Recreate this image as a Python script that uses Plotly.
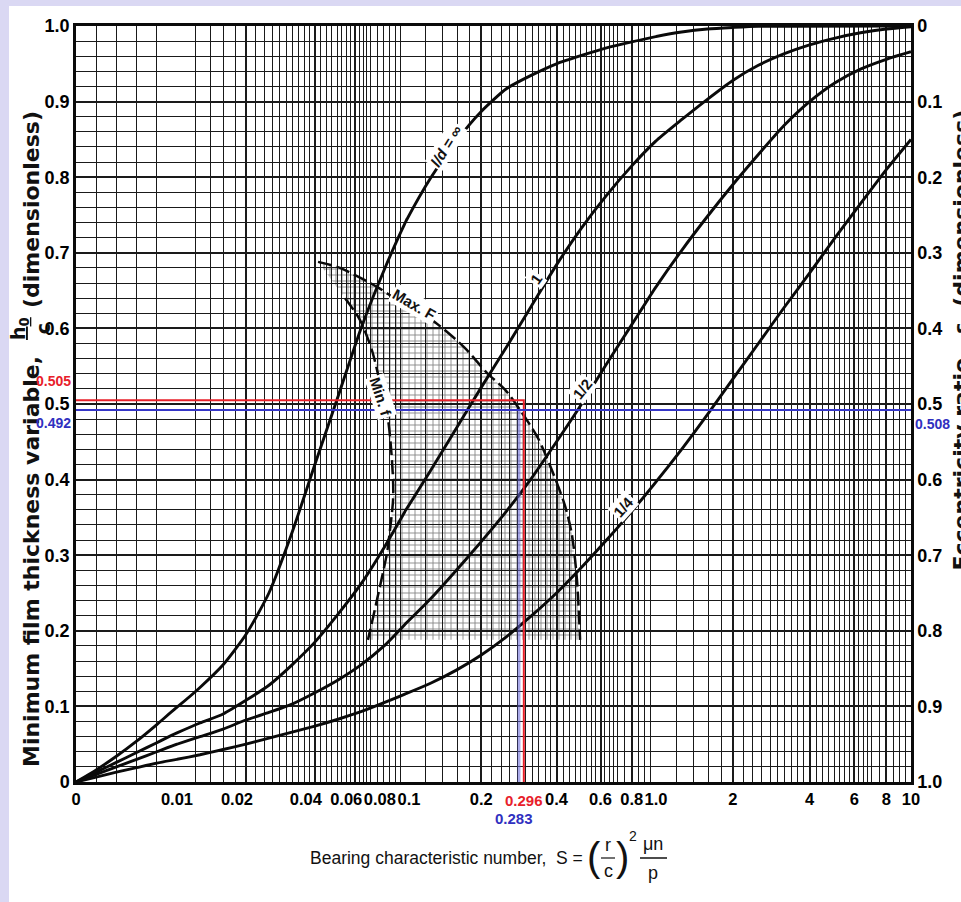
import math
import plotly.graph_objects as go

# ---------------- data ----------------
# l/d = infinity
S_inf = [0, 0.002, 0.004, 0.006, 0.008, 0.01, 0.0126, 0.0159, 0.02, 0.0252, 0.0318, 0.04, 0.0505, 0.0636, 0.0802, 0.1, 0.126, 0.159, 0.2, 0.252, 0.318, 0.4, 0.504, 0.634, 0.8, 1.0, 1.26, 1.59, 2.0, 2.52, 10]
h_inf = [0, 0.016, 0.034, 0.054, 0.076, 0.099, 0.125, 0.155, 0.195, 0.250, 0.330, 0.420, 0.510, 0.600, 0.677, 0.742, 0.800, 0.848, 0.887, 0.917, 0.935, 0.950, 0.961, 0.971, 0.979, 0.986, 0.992, 0.996, 0.998, 0.9995, 1.0]
# l/d = 1
S_1 = [0, 0.002, 0.004, 0.006, 0.008, 0.01, 0.0126, 0.0159, 0.02, 0.0252, 0.0318, 0.04, 0.0505, 0.0636, 0.0802, 0.1, 0.126, 0.159, 0.2, 0.252, 0.318, 0.4, 0.504, 0.634, 0.8, 1.0, 1.26, 1.59, 2.0, 2.52, 3.17, 4.0, 5.04, 6.34, 8.0, 10]
h_1 = [0, 0.013, 0.026, 0.039, 0.052, 0.065, 0.078, 0.090, 0.108, 0.128, 0.155, 0.185, 0.222, 0.262, 0.310, 0.360, 0.413, 0.468, 0.522, 0.575, 0.630, 0.684, 0.733, 0.776, 0.815, 0.848, 0.876, 0.903, 0.928, 0.948, 0.963, 0.975, 0.984, 0.991, 0.996, 0.999]
# l/d = 1/2
S_2 = [0, 0.002, 0.004, 0.006, 0.008, 0.01, 0.0126, 0.0159, 0.02, 0.0252, 0.0318, 0.04, 0.0505, 0.0636, 0.0802, 0.1, 0.126, 0.159, 0.2, 0.252, 0.318, 0.4, 0.504, 0.634, 0.8, 1.0, 1.26, 1.59, 2.0, 2.52, 3.17, 4.0, 5.04, 6.34, 8.0, 10]
h_2 = [0, 0.010, 0.020, 0.030, 0.040, 0.050, 0.060, 0.070, 0.082, 0.092, 0.103, 0.118, 0.135, 0.155, 0.180, 0.210, 0.243, 0.280, 0.318, 0.358, 0.402, 0.450, 0.500, 0.553, 0.605, 0.655, 0.703, 0.748, 0.790, 0.830, 0.868, 0.900, 0.925, 0.943, 0.956, 0.966]
# l/d = 1/4
S_4 = [0, 0.002, 0.004, 0.006, 0.008, 0.01, 0.0126, 0.0159, 0.02, 0.0252, 0.0318, 0.04, 0.0505, 0.0636, 0.0802, 0.1, 0.126, 0.159, 0.2, 0.252, 0.318, 0.4, 0.504, 0.634, 0.8, 1.0, 1.26, 1.59, 2.0, 2.52, 3.17, 4.0, 5.04, 6.34, 8.0, 10]
h_4 = [0, 0.0065, 0.013, 0.019, 0.025, 0.030, 0.036, 0.043, 0.050, 0.058, 0.066, 0.074, 0.083, 0.093, 0.105, 0.117, 0.131, 0.148, 0.168, 0.192, 0.220, 0.250, 0.284, 0.320, 0.358, 0.397, 0.440, 0.486, 0.533, 0.580, 0.627, 0.673, 0.720, 0.765, 0.810, 0.850]
# Max. F and Min. f boundaries (dashed)
S_maxF = [0.0413, 0.0515, 0.0747, 0.0912, 0.1138, 0.1368, 0.1722, 0.211, 0.2489, 0.286, 0.337, 0.387, 0.432, 0.461, 0.483, 0.497]
h_maxF = [0.688, 0.680, 0.655, 0.638, 0.622, 0.603, 0.574, 0.541, 0.519, 0.492, 0.455, 0.409, 0.366, 0.327, 0.267, 0.188]
S_minf = [0.0542, 0.063, 0.071, 0.077, 0.0835, 0.0858, 0.0878, 0.0878, 0.0851, 0.0826, 0.0747, 0.0682]
h_minf = [0.640, 0.611, 0.571, 0.528, 0.479, 0.446, 0.399, 0.373, 0.333, 0.303, 0.241, 0.188]

# worked example
red_S, red_h = 0.296, 0.505
blue_S, blue_h = 0.283, 0.492

# axis tick labels
x_tick_vals = [0, 0.01, 0.02, 0.04, 0.06, 0.08, 0.1, 0.2, 0.4, 0.6, 0.8, 1.0, 2, 4, 6, 8, 10]
x_tick_text = ["0", "0.01", "0.02", "0.04", "0.06", "0.08", "0.1", "0.2", "0.4", "0.6", "0.8", "1.0", "2", "4", "6", "8", "10"]
y_tick_vals = [0, 0.1, 0.2, 0.3, 0.4, 0.5, 0.6, 0.7, 0.8, 0.9, 1.0]
y_left_text = ["0", "0.1", "0.2", "0.3", "0.4", "0.5", "0.6", "0.7", "0.8", "0.9", "1.0"]
ecc_tick_vals = [0, 0.1, 0.2, 0.3, 0.4, 0.5, 0.6, 0.7, 0.8, 0.9, 1.0]
ecc_tick_text = ["0", "0.1", "0.2", "0.3", "0.4", "0.5", "0.6", "0.7", "0.8", "0.9", "1.0"]

# ---------------- layout geometry ----------------
W, H = 961, 902
L, R, T, B = 76, 911, 26, 782
PW, PH = R - L, B - T
seg_px = [76, 177, 406, 656, 911]
segs = [(0, 0.01, "linear"), (0.01, 0.1, "log"), (0.1, 1, "log"), (1, 10, "log")]
domains = [((seg_px[i] - L) / PW, (seg_px[i + 1] - L) / PW) for i in range(4)]


def grid_vals(lo, hi):
    if lo == 0:
        return [0.002, 0.004, 0.006, 0.008]
    m = [1.2, 1.4, 1.6, 1.8, 2.0, 2.2, 2.4, 2.6, 2.8, 3.0, 3.2, 3.4, 3.6, 3.8, 4.0,
         4.25, 4.5, 4.75, 5.0, 5.25, 5.5, 5.75, 6.0, 6.25, 6.5, 6.75, 7.0, 7.5, 8.0, 8.5, 9.0, 9.5]
    return [round(v * lo, 6) for v in m]


FONT_T = "Liberation Sans, Arial, sans-serif"
BOLD = "DejaVu Sans, Liberation Sans, sans-serif"
GRID = "#1a1a1a"
INK = "#0a0a0a"

fig = go.Figure()
xnames = ["x", "x2", "x3", "x4"]
curves = [(S_inf, h_inf), (S_1, h_1), (S_2, h_2), (S_4, h_4)]
hatch_S = S_minf + S_maxF[::-1]
hatch_h = h_minf + h_maxF[::-1]

for i, xn in enumerate(xnames):
    lo, hi, typ = segs[i]
    fig.add_trace(go.Scatter(x=hatch_S, y=hatch_h, xaxis=xn, yaxis="y", mode="lines",
                             fill="toself", fillcolor="rgba(0,0,0,0)", line=dict(width=0),
                             fillpattern=dict(shape="+", size=6, solidity=0.28,
                                              fgcolor="#111", bgcolor="rgba(0,0,0,0)"),
                             showlegend=False, hoverinfo="skip"))
    for S, h in curves:
        fig.add_trace(go.Scatter(x=S, y=h, xaxis=xn, yaxis="y", mode="lines",
                                 line=dict(color=INK, width=2.9, shape="spline", smoothing=0.6),
                                 showlegend=False, hoverinfo="skip"))
    for S, h in [(S_maxF, h_maxF), (S_minf, h_minf)]:
        fig.add_trace(go.Scatter(x=S, y=h, xaxis=xn, yaxis="y", mode="lines",
                                 line=dict(color=INK, width=2.5, dash="14px,5px",
                                           shape="spline", smoothing=0.8),
                                 showlegend=False, hoverinfo="skip"))
    left_edge = 0 if typ == "linear" else 1e-4
    fig.add_trace(go.Scatter(x=[blue_S, blue_S], y=[blue_h, 0], xaxis=xn, yaxis="y",
                             mode="lines", line=dict(color="rgba(100,100,215,0.55)", width=3),
                             showlegend=False, hoverinfo="skip"))
    fig.add_trace(go.Scatter(x=[left_edge, red_S, red_S], y=[red_h, red_h, 0], xaxis=xn, yaxis="y",
                             mode="lines", line=dict(color="#e8202a", width=2),
                             showlegend=False, hoverinfo="skip"))
    fig.add_trace(go.Scatter(x=[left_edge, 10], y=[blue_h, blue_h], xaxis=xn, yaxis="y",
                             mode="lines", line=dict(color="#3636c8", width=2),
                             showlegend=False, hoverinfo="skip"))

# invisible carriers for the eccentricity axis and the two crowded tick labels
fig.add_trace(go.Scatter(x=[1, 10], y=[0.5, 0.5], xaxis="x4", yaxis="y2", mode="lines",
                         line=dict(width=0), showlegend=False, hoverinfo="skip"))
fig.add_trace(go.Scatter(x=[0.05, 0.09], y=[0.5, 0.5], xaxis="x5", yaxis="y", mode="lines",
                         line=dict(width=0), showlegend=False, hoverinfo="skip"))
fig.add_trace(go.Scatter(x=[0.2, 0.5], y=[0.5, 0.5], xaxis="x6", yaxis="y", mode="lines",
                         line=dict(width=0), showlegend=False, hoverinfo="skip"))

TICKF = dict(family=FONT_T, size=18, color="#000", weight="bold")
TICKFX = dict(family=FONT_T, size=16.5, color="#000", weight="bold")
crowded = {0.08: ("xaxis5", "x2", -4), 0.1: ("xaxis6", "x3", 3)}

for i, xn in enumerate(xnames):
    lo, hi, typ = segs[i]
    if i == 0:
        tv = [v for v in x_tick_vals if lo <= v <= hi]
    elif i == 1:
        tv = [v for v in x_tick_vals if lo < v < hi]
    elif i == 2:
        tv = [v for v in x_tick_vals if lo <= v < hi]
    else:
        tv = [v for v in x_tick_vals if lo <= v <= hi]
    tv = [v for v in tv if v not in crowded]
    tt = [x_tick_text[x_tick_vals.index(v)] for v in tv]
    rng = [lo, hi] if typ == "linear" else [math.log10(lo), math.log10(hi)]
    ax = dict(type=typ, domain=list(domains[i]), range=rng, anchor="y",
              tickmode="array", tickvals=tv, ticktext=tt, tickangle=0,
              showgrid=True, gridcolor=GRID, gridwidth=1.6,
              minor=dict(tickmode="array", tickvals=grid_vals(lo, hi), showgrid=True,
                         gridcolor=GRID, gridwidth=1.2, ticks=""),
              showline=True, linecolor=INK, linewidth=2.5, mirror=True,
              ticks="", zeroline=False, tickfont=TICKFX)
    if i == 1:
        ax["ticklabelshift"] = -9
    key = "xaxis" if i == 0 else "xaxis%d" % (i + 1)
    fig.layout[key] = ax

# overlay axes that only carry the crowded labels, nudged apart as in the chart
for v, (key, base, shift) in crowded.items():
    bi = xnames.index(base)
    lo, hi, typ = segs[bi]
    fig.layout[key] = dict(type="log", overlaying=base, anchor="y", side="bottom",
                           range=[math.log10(lo), math.log10(hi)],
                           tickmode="array", tickvals=[v], ticktext=[x_tick_text[x_tick_vals.index(v)]],
                           ticklabelshift=shift, tickangle=0, showgrid=False,
                           showline=True, linecolor=INK, linewidth=2.5,
                           ticks="", zeroline=False, tickfont=TICKFX)

fig.update_layout(
    width=W, height=H,
    margin=dict(l=L, r=W - R, t=T, b=H - B, pad=0),
    paper_bgcolor="#dad8f3", plot_bgcolor="white",
    yaxis=dict(range=[0, 1], tickmode="array", tickvals=y_tick_vals, ticktext=y_left_text,
               showgrid=True, gridcolor=GRID, gridwidth=2,
               minor=dict(dtick=0.02, showgrid=True, gridcolor=GRID, gridwidth=1.2, ticks=""),
               showline=True, linecolor=INK, linewidth=2.5, ticks="", zeroline=False,
               tickfont=TICKF, anchor="x"),
    yaxis2=dict(range=[1, 0], overlaying="y", side="right", anchor="x4",
                tickmode="array", tickvals=ecc_tick_vals, ticktext=ecc_tick_text,
                showgrid=False, showline=True, linecolor=INK, linewidth=2.5,
                ticks="", zeroline=False, tickfont=TICKF),
    showlegend=False,
)


def px_x(x):
    return (x - L) / PW


def px_y(y):
    return (B - y) / PH


fig.add_shape(type="rect", xref="paper", yref="paper", x0=px_x(9), x1=px_x(970),
              y0=px_y(910), y1=px_y(6), fillcolor="white", line=dict(width=0), layer="below")

ann = []


def pa(x, y, text, size, xa="center", ya="middle", angle=0, family=FONT_T, color="#111"):
    ann.append(dict(xref="paper", yref="paper", x=px_x(x), y=px_y(y), xanchor=xa, yanchor=ya,
                    text=text, textangle=angle, showarrow=False,
                    font=dict(family=family, size=size, color=color)))


# left axis title
pa(31, 562, "<b>Minimum film thickness variable,</b>", 22, angle=-90, family=BOLD)
pa(30, 329, "<b><u>h<sub>0</sub></u><br>c</b>", 19, angle=-90, family=BOLD)
pa(31, 210, "<b>(dimensionless)</b>", 22, angle=-90, family=BOLD)
# right axis title (cut by the window edge)
pa(946, 340, "<b>Eccentricity ratio,  \u03b5  (dimensionless)</b>", 22, xa="left", angle=-90, family=BOLD)
# x title
pa(585, 858, "Bearing characteristic number,  S =", 17.5, xa="right")
pa(594, 857, "(", 40)
pa(622, 857, ")", 40)
pa(608, 845, "r", 18)
pa(608, 871, "c", 18)
pa(633, 836, "2", 14)
pa(653, 844, "\u03bcn", 18)
pa(653, 873, "p", 18)
fig.add_shape(type="line", xref="paper", yref="paper", x0=px_x(640), x1=px_x(667),
              y0=px_y(858), y1=px_y(858), line=dict(color="#111", width=1.5))
fig.add_shape(type="line", xref="paper", yref="paper", x0=px_x(601), x1=px_x(615),
              y0=px_y(858), y1=px_y(858), line=dict(color="#111", width=1.2))

# worked example labels
LAB = dict(family=FONT_T, weight="bold")
ann.append(dict(xref="paper", yref="y", x=0, y=red_h, xanchor="right", yanchor="bottom",
                xshift=-3, yshift=9, text="%.3f" % red_h, showarrow=False,
                font=dict(LAB, size=14, color="#e8202a")))
ann.append(dict(xref="paper", yref="y", x=0, y=blue_h, xanchor="right", yanchor="top",
                xshift=-3, yshift=-3, text="%.3f" % blue_h, showarrow=False,
                font=dict(LAB, size=14, color="#3030c0")))
ann.append(dict(xref="paper", yref="y", x=1, y=blue_h, xanchor="left", yanchor="top",
                xshift=2, yshift=-4, text="%.3f" % (1 - blue_h), showarrow=False,
                font=dict(LAB, size=14, color="#3030c0")))
ann.append(dict(xref="x3", yref="paper", x=math.log10(red_S), y=0, xanchor="center", yanchor="top",
                yshift=-8, text="%.3f" % red_S, showarrow=False,
                font=dict(LAB, size=15, color="#e8202a")))
ann.append(dict(xref="x3", yref="paper", x=math.log10(blue_S), y=0, xanchor="center", yanchor="top",
                xshift=-5, yshift=-26, text="%.3f" % blue_S, showarrow=False,
                font=dict(LAB, size=15, color="#3030c0")))

lab_font = dict(family=FONT_T, size=15, color="#111")


def curve_label(xref, S, h, text, angle):
    ann.append(dict(xref=xref, yref="y", x=math.log10(S), y=h, xanchor="center", yanchor="middle",
                    text=text, textangle=angle, showarrow=False, bgcolor="white", font=lab_font))


curve_label("x3", 0.145, 0.842, "<b><i>l/d = \u221e</i></b>", -58)
curve_label("x3", 0.33, 0.665, "<b>1</b>", -55)
curve_label("x3", 0.51, 0.52, "<b>1/2</b>", -52)
curve_label("x3", 0.74, 0.365, "<b>1/4</b>", -48)
curve_label("x3", 0.108, 0.632, "<b>Max. F</b>", 30)
curve_label("x2", 0.0775, 0.51, "<b>Min. f</b>", 72)

fig.update_layout(annotations=ann)
fig.write_html("out.html")
